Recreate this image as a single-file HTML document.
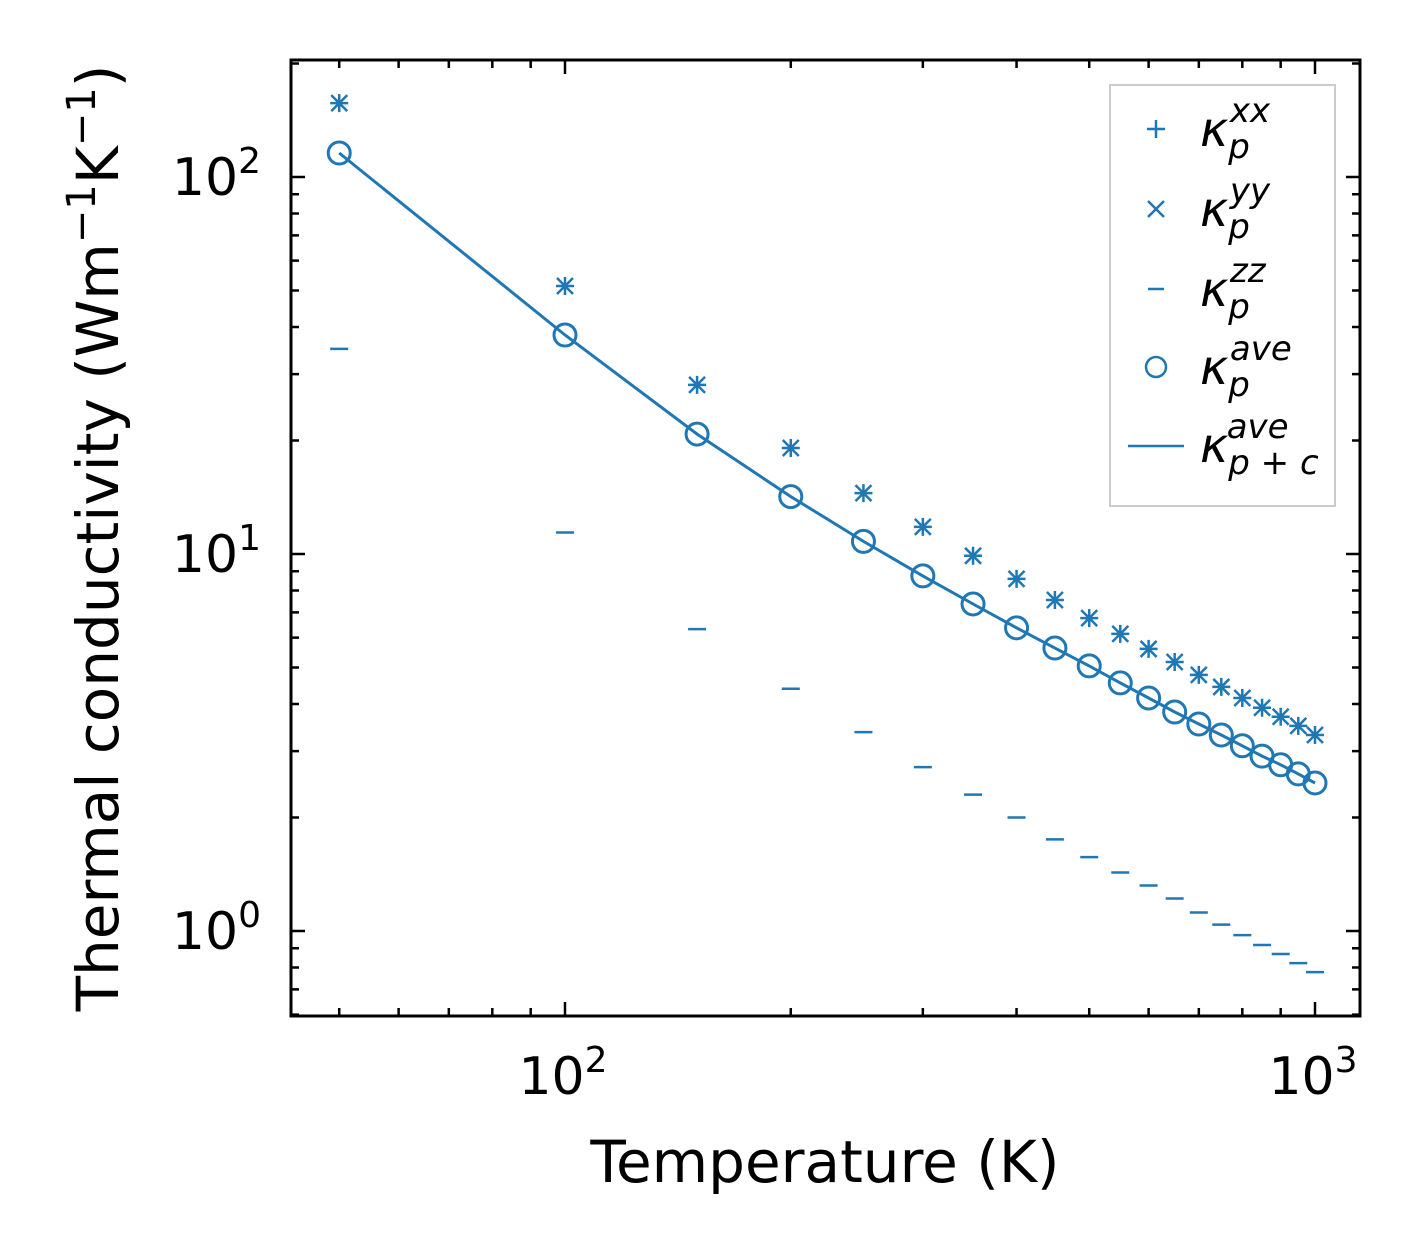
<!DOCTYPE html>
<html><head><meta charset="utf-8"><style>
body{margin:0;background:#fff;}
svg{display:block;font-family:"DejaVu Sans","Liberation Sans",sans-serif;}
</style></head><body>
<svg id="chart" width="1421" height="1254" viewBox="0 0 1421 1254" xmlns="http://www.w3.org/2000/svg">
<rect x="0" y="0" width="1421" height="1254" fill="#fff"/>
<g id="plot"></g>
<g id="ticks"></g>
<rect x="291" y="60" width="1069" height="956" fill="none" stroke="#000" stroke-width="3"/>
<text x="825" y="1182" font-size="58" text-anchor="middle">Temperature (K)</text>
<text transform="translate(118,538) rotate(-90)" font-size="58" text-anchor="middle">Thermal conductivity (Wm<tspan dy="-23" font-size="40">−1</tspan><tspan dy="23">K</tspan><tspan dy="-23" font-size="40">−1</tspan><tspan dy="23">)</tspan></text>
<g>
<rect x="1110" y="85" width="225" height="421" fill="#fff" stroke="#ccc" stroke-width="2"/>
<g stroke="#1f77b4" stroke-width="2.5" fill="none">
<path d="M1147 129h18M1156 120v18"/>
<path d="M1148 201l16 16M1148 217l16-16"/>
<path d="M1148 289h16"/>
<circle cx="1156" cy="367" r="10"/>
<path d="M1128 446h56"/>
</g>
<g font-family="'DejaVu Sans',sans-serif" font-style="italic" font-size="48">
<text x="1200" y="146">κ<tspan font-size="34" dy="12">p</tspan><tspan font-size="34" dx="-20" dy="-36">xx</tspan></text>
<text x="1200" y="226">κ<tspan font-size="34" dy="12">p</tspan><tspan font-size="34" dx="-20" dy="-36">yy</tspan></text>
<text x="1200" y="306">κ<tspan font-size="34" dy="12">p</tspan><tspan font-size="34" dx="-20" dy="-36">zz</tspan></text>
<text x="1200" y="384">κ<tspan font-size="34" dy="12">p</tspan><tspan font-size="34" dx="-20" dy="-36">ave</tspan></text>
<text x="1200" y="462">κ<tspan font-size="34" dy="12">p + c</tspan><tspan font-size="34" dx="-92" dy="-36">ave</tspan></text>
</g>
</g>
</svg>
<script>
const temps=[50,100,150,200,250,300,350,400,450,500,550,600,650,700,750,800,850,900,950,1000];
const kxx=[157,51.4,28.1,19.1,14.5,11.8,9.89,8.59,7.55,6.76,6.14,5.60,5.17,4.78,4.44,4.15,3.91,3.70,3.50,3.31];
const kyy=[157,51.4,28.1,19.1,14.5,11.8,9.89,8.59,7.55,6.76,6.14,5.60,5.17,4.78,4.44,4.15,3.91,3.70,3.50,3.31];
const kzz=[35.0,11.4,6.32,4.39,3.37,2.72,2.30,2.00,1.75,1.57,1.43,1.32,1.22,1.12,1.04,0.975,0.918,0.869,0.822,0.778];
const kave=[115.8,38.1,20.8,14.2,10.8,8.75,7.37,6.37,5.63,5.05,4.55,4.15,3.81,3.54,3.31,3.10,2.91,2.76,2.61,2.47];
const kpc=[115.8,38.1,20.8,14.2,10.8,8.75,7.37,6.37,5.63,5.05,4.55,4.15,3.81,3.54,3.31,3.10,2.91,2.76,2.61,2.47];
const xTickVals=[100,1000];
const xTickLabels=["2","3"];
const yTickVals=[1,10,100];
const yTickLabels=["0","1","2"];

const NS="http://www.w3.org/2000/svg";
const X=v=>565+750*(Math.log10(v)-2);
const Y=v=>177-377*(Math.log10(v)-2);
const plot=document.getElementById('plot');
const tg=document.getElementById('ticks');
const C="#1f77b4";
function mk(tag,attrs,parent){const e=document.createElementNS(NS,tag);for(const k in attrs)e.setAttribute(k,attrs[k]);parent.appendChild(e);return e;}

let d=temps.map((t,i)=>(i?'L':'M')+X(t).toFixed(1)+' '+Y(kpc[i]).toFixed(1)).join('');
const ln=mk('path',{d:d,fill:'none',stroke:C,'stroke-width':3},plot);


temps.forEach((t,i)=>{
  const x=X(t);
  let y=Y(kxx[i]);
  const p1=mk('path',{d:`M${x-9} ${y}h18M${x} ${y-9}v18`,stroke:C,'stroke-width':2.5},plot);
  
  
  y=Y(kyy[i]);
  const p2=mk('path',{d:`M${x-8} ${y-8}l16 16M${x-8} ${y+8}l16-16`,stroke:C,'stroke-width':2.5},plot);
  
  
  y=Y(kzz[i]);
  const p3=mk('path',{d:`M${x-9} ${y}h18`,stroke:C,'stroke-width':2.5},plot);
  
  
  y=Y(kave[i]);
  const c=mk('circle',{cx:x,cy:y,r:11,fill:'none',stroke:C,'stroke-width':3},plot);
  
  
});

const L=291,R=1360,T=60,B=1016;
function tickX(v,len){const x=X(v);if(x<L||x>R)return;
  mk('path',{d:`M${x} ${B}v${-len}M${x} ${T}v${len}`,stroke:'#000','stroke-width':2.5},tg);}
function tickY(v,len){const y=Y(v);if(y<T||y>B)return;
  mk('path',{d:`M${L} ${y}h${len}M${R} ${y}h${-len}`,stroke:'#000','stroke-width':2.5},tg);}
for(let dec=10;dec<=1000;dec*=10)for(let m=2;m<=9;m++){tickX(m*dec,8);}
for(let dec=0.1;dec<=100;dec*=10)for(let m=2;m<=9;m++){tickY(m*dec,8);}
xTickVals.forEach((v,i)=>{tickX(v,14);
  const t=mk('text',{x:X(v)-2,y:B+78,'font-size':52,'text-anchor':'middle'},tg);
  
  
  t.innerHTML='10<tspan dy="-22" font-size="36">'+xTickLabels[i]+'</tspan>';});
yTickVals.forEach((v,i)=>{tickY(v,14);
  const t=mk('text',{x:L-30,y:Y(v)+18,'font-size':52,'text-anchor':'end'},tg);
  
  
  t.innerHTML='10<tspan dy="-22" font-size="36">'+yTickLabels[i]+'</tspan>';});
</script>
</body></html>
